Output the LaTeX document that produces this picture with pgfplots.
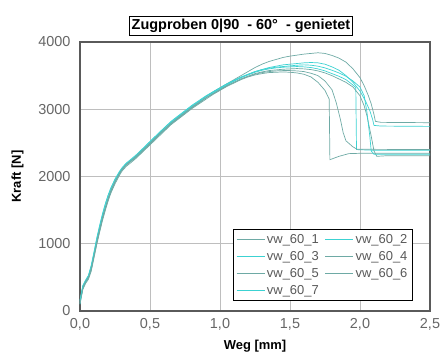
\documentclass[border=0pt]{standalone}
\usepackage{pgfplots}
\pgfplotsset{compat=1.18}
\usepackage{fontspec}
\setmainfont{Liberation Sans}
\definecolor{cA}{RGB}{110,170,165}
\definecolor{cB}{RGB}{60,210,210}
\definecolor{gridc}{RGB}{190,190,190}
\definecolor{framec}{RGB}{90,90,90}
\begin{document}
\begin{tikzpicture}
\begin{axis}[
  scale only axis, width=350bp, height=269bp,
  xmin=0, xmax=2.5, ymin=0, ymax=4000,
  xtick={0,0.5,1,1.5,2,2.5}, ytick={0,1000,2000,3000,4000},
  grid=major, major grid style={gridc, line width=0.8pt},
  axis line style={framec, line width=1.2pt},
  tick style={draw=none},
  /pgf/number format/assume math mode=true,
  xticklabel style={/pgf/number format/.cd, use comma, fixed, fixed zerofill, precision=1, /tikz/.cd, yshift=-4bp},
  yticklabel style={/pgf/number format/1000 sep={}, xshift=-6bp},
  ticklabel style={font=\fontsize{14.5}{15}\selectfont, text=black!60},
  xlabel={\textbf{Weg [mm]}}, ylabel={\textbf{Kraft [N]}},
  xlabel style={font=\fontsize{13}{14}\selectfont, yshift=-3pt},
  ylabel style={font=\fontsize{13}{14}\selectfont, yshift=8pt},
  legend columns=2,
  legend style={at={(rel axis cs:0.951,0.037)}, anchor=south east, draw=black, line width=0.9pt, font=\fontsize{13}{15}\selectfont, text=black!65, inner sep=3pt, row sep=2.5pt, /tikz/every even column/.append style={column sep=4pt}},
  legend cell align=left,
  legend image code/.code={\draw[mark repeat=2,mark phase=2,#1] plot coordinates {(0bp,0bp) (14bp,0bp) (28bp,0bp)};},
  legend image post style={line width=0.8pt},
  every axis plot/.append style={line width=0.7pt},
  clip=false,
]
\addplot[cA] coordinates {(0,120) (0.02,350) (0.04,430) (0.06,490) (0.08,610) (0.1,810) (0.12,1010) (0.14,1190) (0.16,1360) (0.18,1510) (0.2,1650) (0.22,1770) (0.25,1910) (0.28,2030) (0.3,2100) (0.33,2170) (0.36,2220) (0.4,2300) (0.45,2400) (0.5,2500) (0.55,2610) (0.6,2700) (0.65,2800) (0.7,2880) (0.75,2960) (0.8,3040) (0.85,3110) (0.9,3190) (0.95,3260) (1.0,3320) (1.05,3380) (1.1,3440) (1.15,3500) (1.2,3560) (1.25,3620) (1.3,3670) (1.35,3710) (1.4,3740) (1.45,3770) (1.5,3790) (1.55,3805) (1.6,3820) (1.65,3830) (1.7,3840) (1.75,3830) (1.8,3800) (1.85,3760) (1.9,3700) (1.95,3600) (2.0,3470) (2.03,3350) (2.06,3200) (2.08,3080) (2.1,2920) (2.11,2820) (2.15,2805) (2.5,2800)};
\addplot[cB] coordinates {(0,100) (0.02,330) (0.04,420) (0.06,500) (0.08,640) (0.1,850) (0.12,1050) (0.14,1230) (0.16,1400) (0.18,1540) (0.2,1670) (0.22,1790) (0.25,1930) (0.28,2050) (0.3,2110) (0.33,2180) (0.36,2230) (0.4,2290) (0.45,2390) (0.5,2490) (0.55,2590) (0.6,2690) (0.65,2790) (0.7,2870) (0.75,2950) (0.8,3030) (0.85,3100) (0.9,3170) (0.95,3240) (1.0,3300) (1.05,3360) (1.1,3420) (1.15,3470) (1.2,3520) (1.25,3560) (1.3,3590) (1.35,3620) (1.4,3640) (1.45,3660) (1.5,3670) (1.55,3680) (1.6,3690) (1.65,3695) (1.7,3690) (1.75,3670) (1.8,3630) (1.85,3580) (1.9,3500) (1.95,3400) (2.0,3270) (2.04,3120) (2.07,2980) (2.09,2850) (2.1,2760) (2.15,2750) (2.5,2745)};
\addplot[cB] coordinates {(0,150) (0.02,370) (0.04,450) (0.06,520) (0.08,660) (0.1,860) (0.12,1070) (0.14,1260) (0.16,1430) (0.18,1580) (0.2,1710) (0.22,1820) (0.25,1960) (0.28,2060) (0.3,2120) (0.33,2190) (0.36,2240) (0.4,2310) (0.45,2410) (0.5,2520) (0.55,2620) (0.6,2720) (0.65,2810) (0.7,2890) (0.75,2970) (0.8,3050) (0.85,3120) (0.9,3190) (0.95,3250) (1.0,3310) (1.05,3370) (1.1,3420) (1.15,3470) (1.2,3510) (1.25,3550) (1.3,3580) (1.35,3600) (1.4,3615) (1.45,3625) (1.5,3630) (1.55,3635) (1.6,3630) (1.65,3620) (1.7,3600) (1.75,3570) (1.8,3530) (1.85,3490) (1.9,3440) (1.95,3360) (1.97,3320) (1.975,2400) (2.1,2390) (2.5,2390)};
\addplot[cA] coordinates {(0,130) (0.02,340) (0.04,440) (0.06,500) (0.08,620) (0.1,820) (0.12,1020) (0.14,1200) (0.16,1370) (0.18,1520) (0.2,1660) (0.22,1780) (0.25,1920) (0.28,2040) (0.3,2100) (0.33,2170) (0.36,2220) (0.4,2280) (0.45,2380) (0.5,2480) (0.55,2590) (0.6,2680) (0.65,2780) (0.7,2860) (0.75,2940) (0.8,3020) (0.85,3090) (0.9,3170) (0.95,3230) (1.0,3290) (1.05,3350) (1.1,3400) (1.15,3450) (1.2,3490) (1.25,3530) (1.3,3555) (1.35,3575) (1.4,3585) (1.45,3595) (1.5,3600) (1.55,3605) (1.6,3600) (1.65,3590) (1.7,3570) (1.75,3540) (1.8,3500) (1.85,3450) (1.9,3400) (1.95,3330) (2.0,3200) (2.03,3050) (2.05,2900) (2.08,2600) (2.1,2380) (2.12,2300) (2.2,2310) (2.5,2310)};
\addplot[cA] coordinates {(0,110) (0.02,320) (0.04,410) (0.06,470) (0.08,590) (0.1,790) (0.12,990) (0.14,1170) (0.16,1340) (0.18,1490) (0.2,1630) (0.22,1750) (0.25,1890) (0.28,2010) (0.3,2080) (0.33,2150) (0.36,2200) (0.4,2270) (0.45,2370) (0.5,2470) (0.55,2570) (0.6,2670) (0.65,2770) (0.7,2850) (0.75,2930) (0.8,3010) (0.85,3080) (0.9,3150) (0.95,3220) (1.0,3280) (1.05,3340) (1.1,3390) (1.15,3440) (1.2,3480) (1.25,3510) (1.3,3530) (1.35,3545) (1.4,3550) (1.45,3555) (1.5,3550) (1.55,3540) (1.6,3520) (1.65,3480) (1.7,3400) (1.75,3280) (1.78,3150) (1.785,2250) (1.85,2300) (1.92,2340) (2.0,2345) (2.5,2345)};
\addplot[cA] coordinates {(0,140) (0.02,360) (0.04,440) (0.06,510) (0.08,650) (0.1,840) (0.12,1040) (0.14,1220) (0.16,1390) (0.18,1530) (0.2,1670) (0.22,1790) (0.25,1930) (0.28,2040) (0.3,2110) (0.33,2180) (0.36,2230) (0.4,2300) (0.45,2400) (0.5,2500) (0.55,2600) (0.6,2700) (0.65,2790) (0.7,2870) (0.75,2950) (0.8,3030) (0.85,3100) (0.9,3170) (0.95,3230) (1.0,3290) (1.05,3350) (1.1,3400) (1.15,3450) (1.2,3490) (1.25,3520) (1.3,3545) (1.35,3560) (1.4,3570) (1.45,3575) (1.5,3575) (1.55,3570) (1.6,3560) (1.65,3535) (1.7,3500) (1.75,3420) (1.8,3290) (1.83,3100) (1.86,2850) (1.88,2650) (1.9,2530) (1.95,2440) (1.98,2405) (2.5,2400)};
\addplot[cB] coordinates {(0,160) (0.02,380) (0.04,460) (0.06,530) (0.08,680) (0.1,880) (0.12,1090) (0.14,1270) (0.16,1440) (0.18,1590) (0.2,1720) (0.22,1830) (0.25,1960) (0.28,2070) (0.3,2130) (0.33,2200) (0.36,2250) (0.4,2320) (0.45,2420) (0.5,2520) (0.55,2620) (0.6,2720) (0.65,2820) (0.7,2900) (0.75,2980) (0.8,3060) (0.85,3130) (0.9,3200) (0.95,3260) (1.0,3320) (1.05,3380) (1.1,3430) (1.15,3480) (1.2,3520) (1.25,3560) (1.3,3590) (1.35,3610) (1.4,3625) (1.45,3635) (1.5,3645) (1.55,3655) (1.6,3660) (1.65,3655) (1.7,3640) (1.75,3615) (1.8,3580) (1.85,3540) (1.9,3490) (1.95,3420) (2.0,3330) (2.03,3200) (2.05,2950) (2.07,2600) (2.08,2380) (2.1,2330) (2.5,2330)};
\legend{vw\_60\_1, vw\_60\_2, vw\_60\_3, vw\_60\_4, vw\_60\_5, vw\_60\_6, vw\_60\_7}
\node[draw=black, line width=0.9pt, fill=white, inner sep=2.5pt, anchor=south, font=\bfseries\fontsize{14.5}{16}\selectfont, yshift=6bp] at (rel axis cs:0.46,1) {Zugproben 0|90\ \ - 60°\ \ - genietet};
\end{axis}
\useasboundingbox (-80bp,-50bp) rectangle (364bp,311bp);
\end{tikzpicture}
\end{document}
